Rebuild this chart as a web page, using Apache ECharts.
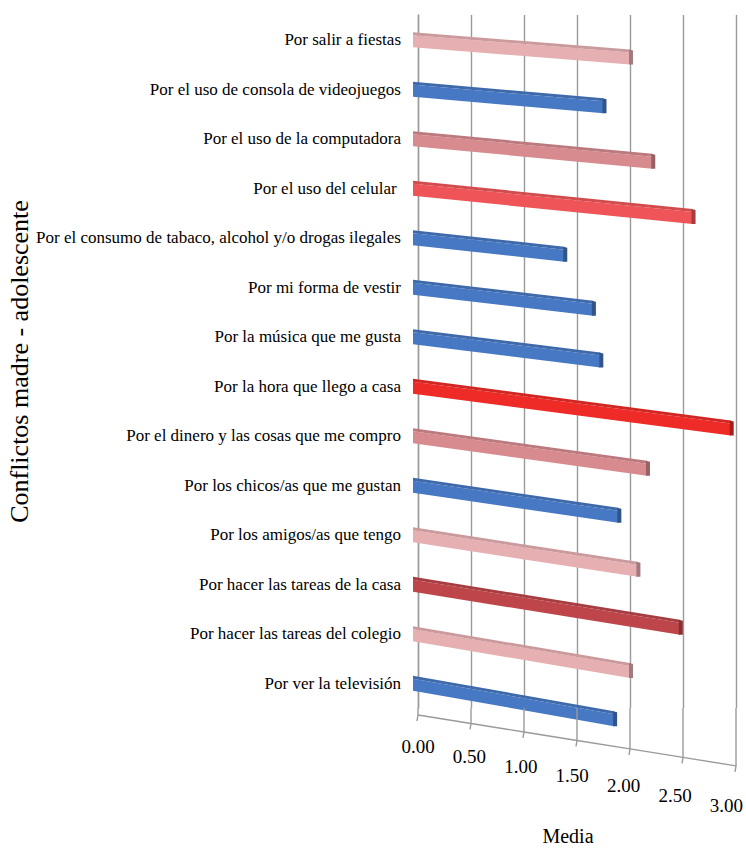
<!DOCTYPE html>
<html>
<head>
<meta charset="utf-8">
<script src="https://cdn.jsdelivr.net/npm/echarts@6/dist/echarts.min.js"></script>
<style>
html,body{margin:0;padding:0;background:#fff;}
#chart{width:746px;height:854px;}
</style>
</head>
<body>
<div id="chart"></div>
<script>
// categorias, de arriba hacia abajo
var categories = [
	'Por salir a fiestas',
	'Por el uso de consola de videojuegos',
	'Por el uso de la computadora',
	'Por el uso del celular ',
	'Por el consumo de tabaco, alcohol y/o drogas ilegales',
	'Por mi forma de vestir',
	'Por la música que me gusta',
	'Por la hora que llego a casa',
	'Por el dinero y las cosas que me compro',
	'Por los chicos/as que me gustan',
	'Por los amigos/as que tengo',
	'Por hacer las tareas de la casa',
	'Por hacer las tareas del colegio',
	'Por ver la televisión'
];
// media
var values = [2.00, 1.75, 2.21, 2.59, 1.38, 1.65, 1.72, 2.95, 2.16, 1.89, 2.07, 2.47, 2.00, 1.85];
var tickValues = [0, 0.5, 1, 1.5, 2, 2.5, 3];
var barColors = [
	'#e6afb2', '#4678c4', '#d78b8f', '#ef5558', '#4678c4', '#4678c4', '#4678c4',
	'#ee2b27', '#d78b8f', '#4678c4', '#e6afb2', '#be4549', '#e6afb2', '#4678c4'
];

var serif = '"Liberation Serif", "Times New Roman", serif';
var gridCol = '#9a9a9a';
var lastCat = categories.length - 1;

function shade(hex, f) {
	var n = parseInt(hex.slice(1), 16);
	var r = Math.round(((n >> 16) & 255) * f);
	var g = Math.round(((n >> 8) & 255) * f);
	var b = Math.round((n & 255) * f);
	return 'rgb(' + r + ',' + g + ',' + b + ')';
}

/* barra inclinada con cara superior y tapa */
function renderBar(params, api) {
	var idx = api.value(1);
	var start = api.coord([0, idx]);
	var end = api.coord([api.value(0), idx]);
	var slope = 0.079 + idx * 0.0075;
	var h = 15, t = 3;
	var x0 = start[0] - 5, x1 = end[0];
	var dy = (x1 - x0) * slope;
	var yt = start[1] - h / 2;
	var c = barColors[idx];
	return {
		type: 'group',
		children: [
			{type: 'polygon', shape: {points: [[x0, yt + t], [x1, yt + t + dy], [x1, yt + h + dy], [x0, yt + h]]}, style: {fill: c}},
			{type: 'polygon', shape: {points: [[x0, yt], [x1, yt + dy], [x1, yt + t + dy], [x0, yt + t]]}, style: {fill: shade(c, 0.88)}},
			{type: 'polygon', shape: {points: [[x1 - 1, yt + dy], [x1 + 3, yt + dy + 1], [x1 + 3, yt + h + dy], [x1 - 1, yt + h + dy]]}, style: {fill: shade(c, 0.7)}}
		]
	};
}

/* piso con marcas del eje */
function renderFloor(params, api) {
	var cs = params.coordSys;
	var bottom = cs.y + cs.height;
	var x0 = cs.x;
	var fy = function (x) { return bottom + 7 + (x - x0) * 0.16; };
	var p = api.coord([api.value(0), lastCat]);
	var ls = {stroke: gridCol, lineWidth: 1.4};
	var children = [
		{type: 'line', shape: {x1: p[0], y1: bottom, x2: p[0], y2: fy(p[0])}, style: ls},
		{type: 'line', shape: {x1: p[0], y1: fy(p[0]), x2: p[0] - 1, y2: fy(p[0]) + 6}, style: ls}
	];
	if (params.dataIndex < tickValues.length - 1) {
		var q = api.coord([tickValues[params.dataIndex + 1], lastCat]);
		children.push({type: 'line', shape: {x1: p[0], y1: fy(p[0]), x2: q[0], y2: fy(q[0])}, style: ls});
	}
	return {type: 'group', children: children};
}

var rich = {};
tickValues.forEach(function (v, i) {
	rich['p' + i] = {
		fontFamily: serif, fontSize: 19, lineHeight: 20, color: '#000',
		padding: [41 + i * 19.5, i * 3.2, 0, 0]
	};
});

var chart = echarts.init(document.getElementById('chart'), null, {renderer: 'svg'});
var option = {
	animation: false,
	grid: {left: 418, right: 10, top: 15, bottom: 146, containLabel: false, outerBoundsMode: 'none'},
	xAxis: {
		type: 'value',
		min: 0, max: 3, interval: 0.5,
		name: 'Media',
		nameLocation: 'middle',
		nameGap: 118,
		nameTextStyle: {fontFamily: serif, fontSize: 20, color: '#000', padding: [0, 18, 0, 0]},
		axisLine: {show: false},
		axisTick: {show: false},
		axisLabel: {
			margin: 8,
			showMinLabel: true,
			showMaxLabel: true,
			hideOverlap: false,
			formatter: function (v) {
				var i = tickValues.indexOf(v);
				return '{p' + i + '|' + v.toFixed(2) + '}';
			},
			rich: rich
		},
		splitLine: {show: true, lineStyle: {color: gridCol, width: 1.4}}
	},
	yAxis: {
		type: 'category',
		data: categories,
		inverse: true,
		offset: 8,
		name: 'Conflictos madre - adolescente',
		nameLocation: 'middle',
		nameRotate: 90,
		nameGap: 374,
		nameTextStyle: {fontFamily: serif, fontSize: 26, color: '#000'},
		axisLine: {show: true, lineStyle: {color: gridCol, width: 1.4}},
		axisTick: {show: false},
		axisLabel: {margin: 9, fontFamily: serif, fontSize: 17, color: '#000'},
		splitLine: {show: false}
	},
	series: [
		{
			type: 'custom',
			name: 'Media',
			renderItem: renderBar,
			encode: {x: 0, y: 1},
			clip: false,
			data: values.map(function (v, i) { return [v, i]; })
		},
		{
			type: 'custom',
			name: 'piso',
			renderItem: renderFloor,
			encode: {x: 0, y: 1},
			clip: false,
			silent: true,
			data: tickValues.map(function (v) { return [v, lastCat]; })
		}
	]
};
chart.setOption(option);
</script>
</body>
</html>
